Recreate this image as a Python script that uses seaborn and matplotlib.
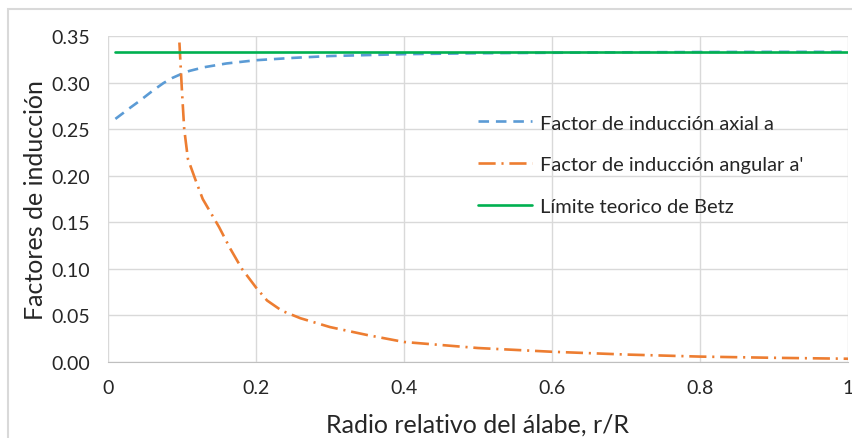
import matplotlib
matplotlib.use("Agg")
import matplotlib.pyplot as plt
import seaborn as sns
import pandas as pd
from matplotlib.patches import Rectangle

# radial position r/R and axial induction factor a
r_axial = [0.01, 0.03, 0.043, 0.06, 0.075, 0.087, 0.097, 0.11, 0.13, 0.16, 0.2, 0.25, 0.3, 0.4, 0.5, 0.6, 0.7, 0.8, 0.9, 1.0]
a_axial = [0.261, 0.273, 0.2805, 0.291, 0.2995, 0.305, 0.3085, 0.3125, 0.3165, 0.3205, 0.324, 0.3265, 0.3285, 0.3305, 0.3315, 0.332, 0.3325, 0.3328, 0.333, 0.333]

# angular induction factor a'
r_angular = [0.0965, 0.1, 0.103, 0.108, 0.118, 0.128, 0.15, 0.165, 0.181, 0.2, 0.215, 0.235, 0.26, 0.3, 0.35, 0.4, 0.5, 0.6, 0.7, 0.8, 0.9, 1.0]
a_angular = [0.343, 0.29, 0.25, 0.218, 0.196, 0.175, 0.145, 0.122, 0.100, 0.080, 0.066, 0.055, 0.047, 0.0375, 0.029, 0.0215, 0.015, 0.011, 0.008, 0.0058, 0.0045, 0.0035]

# Betz limit
r_betz = [0.01, 1.0]
a_betz = [1 / 3, 1 / 3]

labels = ["Factor de inducción axial a", "Factor de inducción angular a'", "Límite teorico de Betz"]
colors = ["#5B9BD5", "#ED7D31", "#00B050"]
text_color = "#262626"

sns.set_style("white")
plt.rcParams['font.family'] = ['Lato', 'DejaVu Sans']

fig = plt.figure(figsize=(8.53, 4.39), dpi=100)
ax = fig.add_axes([108 / 853, 1 - 363 / 439, 740 / 853, 326 / 439])

df_ax = pd.DataFrame({"r": r_axial, "a": a_axial})
df_an = pd.DataFrame({"r": r_angular, "a": a_angular})
df_bz = pd.DataFrame({"r": r_betz, "a": a_betz})

sns.lineplot(data=df_ax, x="r", y="a", ax=ax, color=colors[0], lw=1.9,
             linestyle=(0, (4, 2.6)), label=labels[0])
sns.lineplot(data=df_an, x="r", y="a", ax=ax, color=colors[1], lw=1.9,
             linestyle=(0, (6.5, 2.2, 0.8, 2.2)), label=labels[1])
sns.lineplot(data=df_bz, x="r", y="a", ax=ax, color=colors[2], lw=1.9,
             label=labels[2])

ax.set_xlim(0, 1)
ax.set_ylim(0, 0.35)
ax.set_xticks([0, 0.2, 0.4, 0.6, 0.8, 1.0])
ax.set_xticklabels(["0", "0.2", "0.4", "0.6", "0.8", "1"])
ax.set_yticks([i * 0.05 for i in range(8)])
ax.set_yticklabels([f"{i * 0.05:.2f}" for i in range(8)])
ax.grid(True, color="#d9d9d9", lw=1)
for s in ["top", "right", "left"]:
    ax.spines[s].set_visible(False)
ax.spines["bottom"].set_color("#bfbfbf")
ax.tick_params(axis="y", length=0, labelsize=14, colors=text_color, pad=13)
ax.tick_params(axis="x", length=0, labelsize=14, colors=text_color, pad=12)

ax.set_xlabel("Radio relativo del álabe, r/R", fontsize=18, color=text_color, labelpad=12)
ax.set_ylabel("Factores de inducción", fontsize=18, color=text_color, labelpad=3)

leg = ax.legend(loc="upper left", bbox_to_anchor=(0.475, 0.815), frameon=False,
                fontsize=14.5, handlelength=2.7, labelspacing=1.22, handletextpad=0.4)
for t in leg.get_texts():
    t.set_color(text_color)

fig.patches.append(Rectangle((8 / 853, -0.05), 1.1, 1 - 10 / 439 + 0.05,
                             transform=fig.transFigure, fill=False,
                             edgecolor="#d9d9d9", lw=1.5))

fig.savefig("out.png", dpi=100)
